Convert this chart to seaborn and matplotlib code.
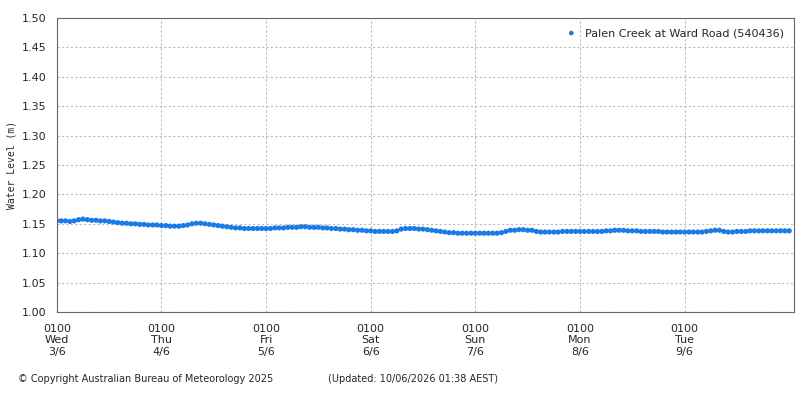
import numpy as np
import pandas as pd
import matplotlib
matplotlib.use("Agg")
import matplotlib.pyplot as plt
import matplotlib.dates as mdates
import seaborn as sns

# hourly water level readings (m), one list per day from 00:00
wed = [1.155, 1.155, 1.155, 1.154, 1.155, 1.157, 1.158, 1.157, 1.156, 1.156, 1.155, 1.155,
       1.154, 1.153, 1.152, 1.151, 1.151, 1.150, 1.150, 1.149, 1.149, 1.148, 1.148, 1.148]
thu = [1.147, 1.147, 1.146, 1.146, 1.146, 1.147, 1.148, 1.150, 1.151, 1.151, 1.150, 1.149,
       1.148, 1.147, 1.146, 1.145, 1.144, 1.143, 1.143, 1.142, 1.142, 1.142, 1.142, 1.142]
fri = [1.142, 1.142, 1.143, 1.143, 1.143, 1.144, 1.144, 1.144, 1.145, 1.145, 1.144, 1.144,
       1.144, 1.143, 1.143, 1.142, 1.142, 1.141, 1.141, 1.140, 1.140, 1.139, 1.139, 1.138]
sat = [1.138, 1.137, 1.137, 1.137, 1.137, 1.137, 1.138, 1.141, 1.142, 1.142, 1.142, 1.141,
       1.141, 1.140, 1.139, 1.138, 1.137, 1.136, 1.135, 1.135, 1.134, 1.134, 1.134, 1.134]
sun = [1.134, 1.134, 1.134, 1.134, 1.134, 1.134, 1.135, 1.137, 1.139, 1.139, 1.140, 1.140,
       1.139, 1.139, 1.137, 1.136, 1.136, 1.136, 1.136, 1.136, 1.137, 1.137, 1.137, 1.137]
mon = [1.137, 1.137, 1.137, 1.137, 1.137, 1.137, 1.138, 1.138, 1.139, 1.139, 1.139, 1.138,
       1.138, 1.138, 1.137, 1.137, 1.137, 1.137, 1.137, 1.136, 1.136, 1.136, 1.136, 1.136]
tue = [1.136, 1.136, 1.136, 1.136, 1.136, 1.137, 1.138, 1.139, 1.139, 1.137, 1.136, 1.136,
       1.137, 1.137, 1.137, 1.138, 1.138, 1.138, 1.138, 1.138, 1.138, 1.138, 1.138, 1.138,
       1.138]
levels = wed + thu + fri + sat + sun + mon + tue
times = pd.date_range("2026-06-03 00:00", periods=len(levels), freq="h")
df = pd.DataFrame({"time": times, "level": levels})

day_labels = ["0100\nWed\n3/6", "0100\nThu\n4/6", "0100\nFri\n5/6", "0100\nSat\n6/6",
              "0100\nSun\n7/6", "0100\nMon\n8/6", "0100\nTue\n9/6"]

sns.set_style("white")
plt.rcParams["font.family"] = ["DejaVu Sans"]
fig = plt.figure(figsize=(8, 4), dpi=100)
ax = fig.add_axes([0.071, 0.22, 0.921, 0.735])

sns.scatterplot(data=df, x="time", y="level", ax=ax, color="#1a7be6", s=14,
                marker="o", edgecolor="none", label="Palen Creek at Ward Road (540436)")
ax.plot(df["time"], df["level"], color="#1a7be6", lw=1.5)

ax.set_ylim(1.0, 1.5)
ax.set_yticks(np.arange(1.0, 1.501, 0.05))
ax.set_yticklabels([f"{v:.2f}" for v in np.arange(1.0, 1.501, 0.05)], fontsize=8)
ax.set_xlim(times[0], pd.Timestamp("2026-06-10 01:00"))
ax.set_xticks(pd.date_range("2026-06-03", periods=7, freq="D"))
ax.set_xticklabels(day_labels, fontsize=8)
ax.xaxis.set_minor_locator(mdates.HourLocator(byhour=[6, 12, 18]))
ax.tick_params(axis="x", which="major", length=5, color="#333")
ax.tick_params(axis="x", which="minor", length=3, color="#333")
ax.tick_params(axis="y", length=4, color="#333")
ax.grid(True, color="#bbbbbb", linestyle=(0, (2, 2)), lw=0.8)
for s in ax.spines.values():
    s.set_color("#666666")
ax.set_xlabel("")
ax.set_ylabel("Water Level (m)", fontsize=7, family="DejaVu Sans Mono")
ax.legend(loc="upper right", fontsize=8, frameon=False, handletextpad=0.2, markerscale=0.9)

fig.text(0.023, 0.045, "© Copyright Australian Bureau of Meteorology 2025", fontsize=7)
fig.text(0.41, 0.045, "(Updated: 10/06/2026 01:38 AEST)", fontsize=7)
fig.savefig("out.png", dpi=100)
